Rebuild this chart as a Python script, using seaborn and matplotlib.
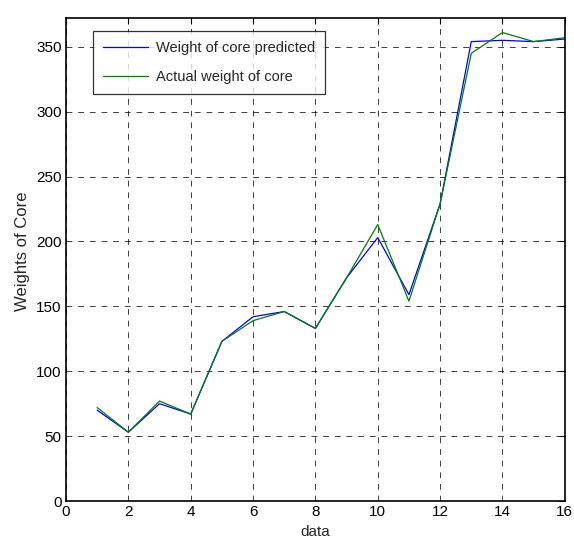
import pandas as pd
import seaborn as sns
import matplotlib.pyplot as plt

# values
samples = list(range(1, 17))
predicted = [70, 53, 75, 67, 123, 142, 146, 133, 172, 203, 159, 229, 354, 355, 354, 356]
actual = [72, 53, 77, 67, 123, 139, 146, 133, 172, 213, 154, 229, 345, 361, 354, 357]
series_names = ['Weight of core predicted', 'Actual weight of core']
x_ticks = list(range(0, 17, 2))
y_ticks = list(range(0, 351, 50))

df = pd.concat([
    pd.DataFrame({'data': samples, 'weight': predicted, 'series': series_names[0]}),
    pd.DataFrame({'data': samples, 'weight': actual, 'series': series_names[1]}),
])

sns.set_style('white')
plt.rcParams['font.family'] = ['Liberation Sans', 'DejaVu Sans']

fig = plt.figure(figsize=(5.74, 5.53), dpi=100)
ax = fig.add_axes([0.115, 0.094, 0.869, 0.873])

sns.lineplot(data=df, x='data', y='weight', hue='series',
             palette=['#0000ff', '#008000'], linewidth=0.9, ax=ax,
             legend=True)

ax.set_xlim(0, 16)
ax.set_ylim(0, 372)
ax.set_xticks(x_ticks)
ax.set_yticks(y_ticks)
ax.grid(True, color='black', linestyle=(0, (6, 6)), linewidth=0.7, alpha=0.75)
ax.tick_params(direction='in', length=4, labelsize=11, top=True, right=True,
               colors='black', pad=3)
for s in ax.spines.values():
    s.set_color('black')
    s.set_linewidth(1.2)

ax.set_xlabel('data', fontsize=11, labelpad=4)
ax.set_ylabel('Weights of Core', fontsize=12)
ax.yaxis.set_label_coords(-0.072, 0.518)

leg = ax.legend(loc='upper left', bbox_to_anchor=(0.054, 0.973), fontsize=10.5,
                frameon=True, fancybox=False, edgecolor='black',
                borderpad=0.7, handlelength=3.1, handletextpad=0.5,
                labelspacing=1.0, borderaxespad=0)
leg.get_frame().set_linewidth(0.9)

fig.savefig('out.png', dpi=100)
